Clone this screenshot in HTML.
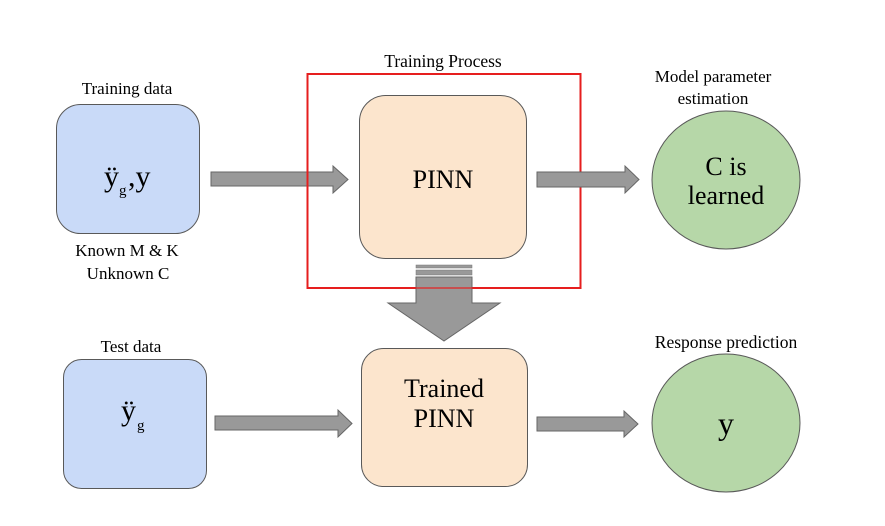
<!DOCTYPE html>
<html><head><meta charset="utf-8"><style>
html,body{margin:0;padding:0;background:#fff;}
svg{display:block;}
text{font-family:"Liberation Serif",serif;fill:#000;}
</style></head><body>
<svg width="885" height="526" viewBox="0 0 885 526" xmlns="http://www.w3.org/2000/svg">
<rect width="885" height="526" fill="#fff"/>
<rect x="56.5" y="104.5" width="143" height="129" rx="24" fill="#c9daf8" stroke="#595959" stroke-width="1"/>
<text x="127" y="94" font-size="17" text-anchor="middle">Training data</text>
<text x="104" y="186" font-size="30">ÿ</text>
<text x="119" y="195" font-size="15">g</text>
<text x="128" y="186" font-size="30">,y</text>
<text x="127" y="256" font-size="17" text-anchor="middle">Known M &amp; K</text>
<text x="128" y="279" font-size="17" text-anchor="middle">Unknown C</text>
<polygon points="211,172 333,172 333,166 348,179.5 333,193 333,186 211,186" fill="#999" stroke="#666" stroke-width="1"/>
<rect x="359.5" y="95.5" width="167" height="163" rx="26" fill="#fce5cd" stroke="#595959" stroke-width="1"/>
<text x="443" y="188" font-size="26" text-anchor="middle">PINN</text>
<rect x="307.5" y="74" width="273" height="214" fill="none" stroke="#e61e1e" stroke-width="2"/>
<text x="443" y="67" font-size="17.5" text-anchor="middle">Training Process</text>
<polygon points="537,172 625,172 625,166 639,179.5 625,193 625,187 537,187" fill="#999" stroke="#666" stroke-width="1"/>
<ellipse cx="726" cy="180" rx="74" ry="69" fill="#b6d7a8" stroke="#595959" stroke-width="1"/>
<text x="713" y="82" font-size="17" text-anchor="middle">Model parameter</text>
<text x="713" y="104" font-size="17" text-anchor="middle">estimation</text>
<text x="726" y="175" font-size="26" text-anchor="middle">C is</text>
<text x="726" y="204" font-size="26" text-anchor="middle">learned</text>
<rect x="416" y="265" width="56" height="3" fill="#999" stroke="#777" stroke-width="0.5"/>
<rect x="416" y="270" width="56" height="5" fill="#999" stroke="#777" stroke-width="0.5"/>
<polygon points="416,277 472,277 472,303 500,303 444,341 388,303 416,303" fill="#999" stroke="#666" stroke-width="1"/>
<line x1="307" y1="288" x2="581" y2="288" stroke="#e61e1e" stroke-width="2" opacity="0.6"/>
<rect x="63.5" y="359.5" width="143" height="129" rx="18" fill="#c9daf8" stroke="#595959" stroke-width="1"/>
<text x="131" y="352" font-size="17" text-anchor="middle">Test data</text>
<text x="121" y="420" font-size="30">ÿ</text>
<text x="137" y="430" font-size="15">g</text>
<polygon points="215,416 338,416 338,410 352,423.5 338,437 338,430 215,430" fill="#999" stroke="#666" stroke-width="1"/>
<rect x="361.5" y="348.5" width="166" height="138" rx="22" fill="#fce5cd" stroke="#595959" stroke-width="1"/>
<text x="444" y="397" font-size="26" text-anchor="middle">Trained</text>
<text x="444" y="427" font-size="26" text-anchor="middle">PINN</text>
<polygon points="537,417 624,417 624,411 638,424 624,437 624,431 537,431" fill="#999" stroke="#666" stroke-width="1"/>
<ellipse cx="726" cy="423" rx="74" ry="69" fill="#b6d7a8" stroke="#595959" stroke-width="1"/>
<text x="726" y="348" font-size="17.5" text-anchor="middle">Response prediction</text>
<text x="726" y="434" font-size="32" text-anchor="middle">y</text>
</svg>
</body></html>
